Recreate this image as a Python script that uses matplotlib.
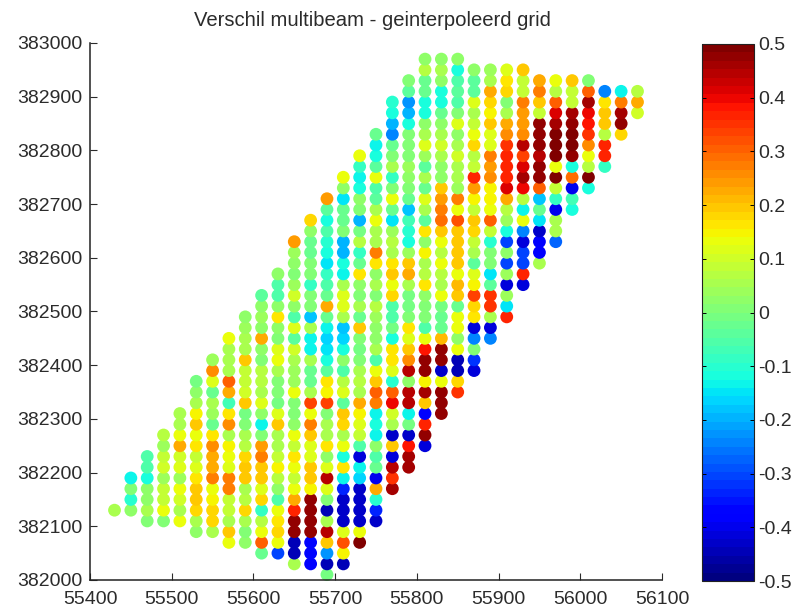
import matplotlib
matplotlib.use("Agg")
import matplotlib.pyplot as plt

plt.rcParams['font.family'] = ['Liberation Sans', 'DejaVu Sans']

title_text = "Verschil multibeam - geinterpoleerd grid"
x_ticks = [55400, 55500, 55600, 55700, 55800, 55900, 56000, 56100]
y_ticks = [382000, 382100, 382200, 382300, 382400, 382500, 382600, 382700, 382800, 382900, 383000]
cbar_ticks = [-0.5, -0.4, -0.3, -0.2, -0.1, 0, 0.1, 0.2, 0.3, 0.4, 0.5]
cbar_labels = ['-0.5', '-0.4', '-0.3', '-0.2', '-0.1', '0', '0.1', '0.2', '0.3', '0.4', '0.5']

row_step = 20

# easting of each survey column, northing of its lowest point, values upward
column_x = [55430, 55450, 55470, 55490, 55510, 55530, 55550, 55570, 55590, 55610, 55630,
            55650, 55670, 55690, 55710, 55730, 55750, 55770, 55790, 55810, 55830, 55850,
            55870, 55890, 55910, 55930, 55950, 55970, 55990, 56010, 56030, 56050, 56070]
column_first_y = [382130, 382130, 382110, 382110, 382110, 382090, 382090, 382070, 382070, 382050, 382050,
                  382030, 382030, 382010, 382030, 382070, 382110, 382170, 382210, 382250, 382310, 382350,
                  382390, 382450, 382490, 382550, 382590, 382630, 382690, 382730, 382770, 382830, 382870]

c55430 = [.06]
c55450 = [.02, -.1, 0, -.13]
c55470 = [0, .06, .03, .02, -.12, -.05, -.06]
c55490 = [0, .13, .08, .08, .04, .1, .08, .04, .07]
c55510 = [.14, .05, .1, .13, .04, .11, .1, .23, .13, .06, .06]
c55530 = [.02, .06, .18, .2, .2, .16, .12, .08, .17, .13, .2, .15, .05, .02, -.01]
c55550 = [.05, .18, .18, .15, .13, .27, .22, .22, .25, .17, -.02, .04, .06, -.03, .12, .25, .04]
c55570 = [.13, .19, .06, .08, .08, .27, .28, .12, .13, .15, .06, .26, .17, -.07, .22, .3, .06, .05, .05, .13]
c55590 = [.02, 0, .05, .18, .07, .05, .2, .2, .18, .07, .05, 0, -.01, .19, .1, .09, .08, .2, .05, .05, .04, .02]
c55610 = [-.03, .3, .13, .07, -.08, .18, .11, .2, .2, .27, .24, 0, -.13, .03, .12, .05, .07, .07, 0, .03, .22,
          .03, .04, .02, -.04]
c55630 = [-.3, .14, .18, .17, .13, -.06, .03, .07, .15, .08, .06, .05, .2, .12, -.01, 0, 0, .05, .13, .12, 0,
          .02, .17, .02, -.05, -.06, .03]
c55650 = [.05, -.45, -.45, .48, .47, .37, .22, .13, .08, .13, .17, .08, .13, .02, 0, .01, .13, .04, .04, .05,
          .1, -.04, .11, -.06, .03, .1, .04, .01, .03, .04, .24]
c55670 = [-.38, -.37, -.37, .47, .47, .47, .47, .15, .2, .2, .12, .12, .19, .27, .14, .33, .05, -.03, -.03, .05,
          -.13, -.13, .05, -.18, 0, .01, -.08, 0, 0, -.02, -.02, .03, .18]
c55690 = [-.01, -.45, -.22, .2, .44, .06, -.45, 0, .12, .45, .12, .03, .16, .05, .05, 0, .34, .15, .17, -.04,
          -.12, -.15, -.16, -.13, -.03, .22, -.02, -.05, -.08, -.15, -.11, -.1, -.06, -.12, -.04, .24]
c55710 = [-.45, .15, .32, .12, -.43, -.43, -.43, -.33, -.14, .17, -.12, .13, .05, .18, .19, -.04, .11, .07, -.06,
          .03, -.12, -.16, -.18, .06, .12, .12, .06, -.13, -.12, -.2, -.2, 0, -.02, -.03, -.15, .03, .14]
c55730 = [.5, .14, -.43, -.43, -.43, -.43, -.17, -.13, -.42, -.05, .08, .11, .15, .22, .05, .07, .05, 0, -.01, 0,
          .19, -.03, .05, 0, .03, .16, -.02, -.09, .07, -.01, -.2, 0, .02, -.12, -.13, -.09, .13]
c55750 = [-.43, -.33, -.1, .23, -.4, -.02, -.05, .02, -.14, -.11, -.14, .28, .31, .19, .13, -.06, .05, .03, .03,
          .04, .07, 0, .05, .02, .17, .28, .05, .05, .13, .05, -.04, -.06, .14, -.04, -.12, -.13, -.02]
c55770 = [.46, .35, .45, -.42, .2, -.43, .06, .1, .4, .3, -.1, .12, .16, .17, -.11, -.01, -.05, -.05, .18, .13,
          .2, .16, .06, .07, .04, -.15, -.02, .13, 0, -.08, .06, 0, -.02, -.25, -.2, -.12, -.1]
c55790 = [.46, .46, .38, -.43, -.01, -.13, .45, .45, .03, .45, .25, .2, .12, .17, 0, -.01, -.01, .06, .23, .2,
          .04, -.12, -.1, -.07, -.18, -.02, 0, .03, .04, .01, 0, 0, -.12, -.2, -.22, -.04, 0]
c55810 = [-.42, .47, .37, -.38, .2, .46, .15, .47, .47, .38, .14, -.05, 0, 0, .03, .17, .07, .05, .15, .02, .16,
          -.04, .05, .12, -.03, .05, -.04, .04, .11, .06, .03, -.12, -.12, -.02, -.02, .07, .03]
c55830 = [.47, .47, .47, .13, -.43, .47, .47, .21, -.02, -.03, -.01, .14, .05, .07, .13, .07, .13, .2, .29, .27,
          .24, .2, .03, .03, .06, .1, .05, .02, -.03, -.12, -.11, .03, .05, .03]
c55850 = [.35, .18, -.44, -.44, .13, .03, .13, .13, -.03, .2, .21, .13, .2, .2, .2, .2, .32, .14, .27, .04, .05,
          .05, .1, .05, .03, .12, 0, -.05, -.04, -.06, -.12, .03]
c55870 = [-.42, -.32, 0, -.25, -.42, .17, .18, .34, .15, .12, -.04, .06, .08, .18, .2, .08, .15, .24, .36, .08,
          .07, .18, .14, .08, .06, .12, -.04, -.04, .03]
c55890 = [-.25, -.42, .05, .35, .35, -.04, -.15, 0, 0, -.1, .08, .3, .13, .15, .15, .25, .24, .27, .11, .12, .2,
          .15, .18, .22, .06, .04]
c55910 = [.36, -.15, .04, -.42, .04, -.3, .03, -.3, -.11, .04, .07, .23, .42, .36, .36, .37, .35, .25, .22, .05,
          0, .18, .17, .12]
c55930 = [-.42, .36, -.3, -.3, -.42, -.25, .13, -.13, .07, .4, .46, .42, .34, .45, .26, .24, .24, .28, .08, .08, .2]
c55950 = [.05, -.38, -.38, -.43, -.15, -.02, -.18, .3, .47, .47, .44, .47, .47, .47, .09, .2, .27, .22]
c55970 = [-.28, .05, .05, -.4, -.08, .08, .5, .13, .5, .5, .5, .46, .42, .3, .07, .13]
c55990 = [-.12, -.07, -.4, .29, -.11, .47, .5, .5, .47, .46, .08, .08, .2]
c56010 = [-.12, .5, .07, .13, .26, .35, .38, .4, .46, .3, 0]
c56030 = [-.08, .36, .36, .07, .2, .2, .17, -.25]
c56050 = [.18, .47, .46, .28, -.13]
c56070 = [.1, .23, .07]

columns = [c55430, c55450, c55470, c55490, c55510, c55530, c55550, c55570, c55590, c55610, c55630,
           c55650, c55670, c55690, c55710, c55730, c55750, c55770, c55790, c55810, c55830, c55850,
           c55870, c55890, c55910, c55930, c55950, c55970, c55990, c56010, c56030, c56050, c56070]

xs, ys, vs = [], [], []
for cx, y0, col in zip(column_x, column_first_y, columns):
    for i, v in enumerate(col):
        xs.append(cx)
        ys.append(y0 + i * row_step)
        vs.append(v)

W, H = 800, 610
fig = plt.figure(figsize=(W / 100, H / 100), dpi=100, facecolor='white')
ax = fig.add_axes([90 / W, 1 - 580 / H, 572 / W, 537 / H])
cmap = plt.get_cmap('jet', 64)
sc = ax.scatter(xs, ys, c=vs, cmap=cmap, vmin=-0.5, vmax=0.5, s=85, marker='o', linewidths=0, clip_on=False)

text_color = '#2b2b2b'
ax.set_xlim(55400, 56100)
ax.set_ylim(382000, 383000)
ax.set_xticks(x_ticks)
ax.set_yticks(y_ticks)
ax.set_xticklabels([str(t) for t in x_ticks])
ax.set_yticklabels([str(t) for t in y_ticks])
ax.spines['top'].set_visible(False)
ax.spines['right'].set_visible(False)
for s in ('left', 'bottom'):
    ax.spines[s].set_linewidth(1.1)
    ax.spines[s].set_color('#222222')
ax.tick_params(direction='in', length=4.7, width=0.8, labelsize=14, colors=text_color)
ax.tick_params(axis='x', pad=8)
ax.tick_params(axis='y', pad=5.5)
fig.text(372 / W, 1 - 21 / H, title_text, ha='center', va='center', fontsize=14.6, color=text_color)

cax = fig.add_axes([702 / W, 1 - 581 / H, 52 / W, 537 / H])
cb = fig.colorbar(sc, cax=cax)
cb.set_ticks(cbar_ticks)
cb.set_ticklabels(cbar_labels)
cb.outline.set_linewidth(0.8)
cb.outline.set_edgecolor('#222222')
cax.tick_params(direction='in', length=3, width=0.7, left=True, right=True, labelsize=14,
                labelcolor=text_color, pad=3)

fig.savefig('out.png', dpi=100)
